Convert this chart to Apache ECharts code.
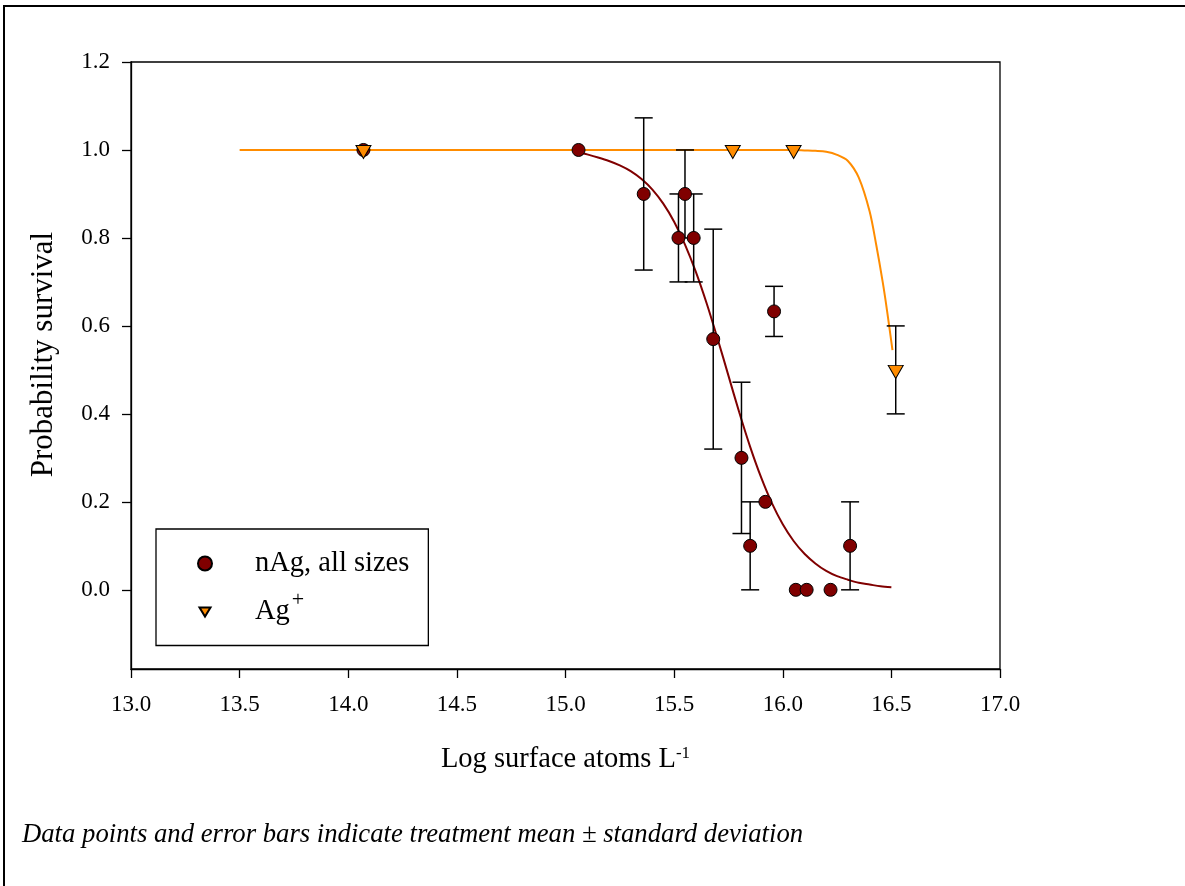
<!DOCTYPE html>
<html><head><meta charset="utf-8">
<script src="https://cdn.jsdelivr.net/npm/echarts@6/dist/echarts.min.js"></script>
<style>html,body{margin:0;padding:0;background:#fff;overflow:hidden}#c{width:1185px;height:886px}</style>
</head><body><div id="c"></div>
<script>
// ---- tick labels ----
const xTicks = [13.0, 13.5, 14.0, 14.5, 15.0, 15.5, 16.0, 16.5, 17.0];
const yTicks = [0.0, 0.2, 0.4, 0.6, 0.8, 1.0, 1.2];

// ---- nAg, all sizes (mean, sd) ----
const nAgX  = [14.07, 15.06, 15.36, 15.52, 15.55, 15.59, 15.68, 15.81, 15.85, 15.92, 15.96, 16.06, 16.11, 16.22, 16.31];
const nAgY  = [1.00, 1.00, 0.90, 0.80, 0.90, 0.80, 0.57, 0.30, 0.10, 0.20, 0.633, 0.00, 0.00, 0.00, 0.10];
const nAgSD = [0, 0, 0.173, 0.10, 0.10, 0.10, 0.25, 0.172, 0.10, 0, 0.057, 0, 0, 0, 0.10];

// ---- Ag+ (mean, sd) ----
const agX  = [14.07, 15.77, 16.05, 16.52];
const agY  = [1.00, 1.00, 1.00, 0.50];
const agSD = [0, 0, 0, 0.10];

// ---- fitted curves ----
const nAgFitX = [15.06, 15.10, 15.15, 15.20, 15.25, 15.30, 15.35, 15.40, 15.45, 15.50, 15.55, 15.60, 15.65, 15.70, 15.75, 15.80, 15.85, 15.90, 15.95, 16.00, 16.05, 16.10, 16.15, 16.20, 16.25, 16.30, 16.35, 16.40, 16.45, 16.50];
const nAgFitY = [0.995, 0.990, 0.983, 0.975, 0.965, 0.952, 0.934, 0.910, 0.878, 0.837, 0.785, 0.723, 0.651, 0.571, 0.487, 0.403, 0.325, 0.256, 0.197, 0.149, 0.111, 0.082, 0.060, 0.043, 0.031, 0.023, 0.016, 0.012, 0.008, 0.006];
const agFitX = [13.50, 15.90, 16.00, 16.05, 16.10, 16.15, 16.20, 16.25, 16.30, 16.35, 16.40, 16.43, 16.46, 16.48, 16.505];
const agFitY = [1.000, 1.000, 1.000, 1.000, 0.999, 0.998, 0.996, 0.989, 0.975, 0.937, 0.860, 0.785, 0.700, 0.635, 0.545];

const FONT = '"Liberation Serif", "Times New Roman", serif';
const zip = (a, b) => a.map((v, i) => [v, b[i]]);
const errData = [];
nAgX.forEach((x, i) => { if (nAgSD[i] > 0) errData.push([x, nAgY[i], nAgSD[i]]); });
agX.forEach((x, i) => { if (agSD[i] > 0) errData.push([x, agY[i], agSD[i]]); });

const triPath = 'path://M0,0 L15,0 L7.5,13 Z';
const triLegend = 'path://M0,0 M14,14 M1.5,2.5 L12.5,2.5 L7,11.5 Z';

const chart = echarts.init(document.getElementById('c'), null, {renderer: 'canvas'});
const option = {
  animation: false,
  backgroundColor: '#fff',
  grid: {left: 131, top: 62, width: 869, height: 607, show: true, borderColor: '#000', borderWidth: 1.3, containLabel: false},
  xAxis: {
    type: 'value', min: 13, max: 17, interval: 0.5,
    axisLine: {onZero: false, lineStyle: {color: '#000', width: 1.3}},
    axisTick: {inside: false, length: 9, customValues: xTicks, lineStyle: {color: '#000', width: 1.3}},
    axisLabel: {margin: 24, color: '#000', fontFamily: FONT, fontSize: 23, customValues: xTicks, formatter: v => v.toFixed(1)},
    splitLine: {show: false},
    name: '{t|Log surface atoms L}{s|-1}', nameLocation: 'middle', nameGap: 76,
    nameTextStyle: {rich: {
      t: {fontFamily: FONT, fontSize: 28.5, color: '#000', lineHeight: 30},
      s: {fontFamily: FONT, fontSize: 17, color: '#000', lineHeight: 13, verticalAlign: 'top'}
    }}
  },
  yAxis: {
    type: 'value', min: -0.18, max: 1.2,
    axisLine: {onZero: false, lineStyle: {color: '#000', width: 1.3}},
    axisTick: {inside: false, length: 9, customValues: yTicks, lineStyle: {color: '#000', width: 1.3}},
    axisLabel: {margin: 21, color: '#000', fontFamily: FONT, fontSize: 23, customValues: yTicks, formatter: v => v.toFixed(1)},
    splitLine: {show: false},
    name: 'Probability survival', nameLocation: 'middle', nameGap: 72,
    nameTextStyle: {fontFamily: FONT, fontSize: 31, color: '#000', padding: [0, 0, 0, 22]}
  },
  legend: {
    left: 156, top: 529, orient: 'vertical',
    padding: [20, 19, 19, 41], itemGap: 11, itemWidth: 14, itemHeight: 14,
    borderColor: '#000', borderWidth: 1.3, backgroundColor: '#fff',
    data: [{name: 'nAg, all sizes', icon: 'circle'}, {name: 'Ag+', icon: triLegend}],
    formatter: n => n === 'Ag+' ? '{sp|}{t|Ag}{s|+}' : '{sp|}{t|' + n + '}',
    textStyle: {rich: {
      sp: {width: 38, lineHeight: 46},
      t: {fontFamily: FONT, fontSize: 28.5, color: '#000', lineHeight: 46},
      s: {fontFamily: FONT, fontSize: 22, color: '#000', verticalAlign: 'top', padding: [0, 0, 0, 2]}
    }},
    selectedMode: false
  },
  series: [
    {type: 'line', name: 'nAg fit', data: zip(nAgFitX, nAgFitY), showSymbol: false, smooth: 0.3, z: 1,
     lineStyle: {color: '#800000', width: 2}, silent: true},
    {type: 'line', name: 'Ag fit', data: zip(agFitX, agFitY), showSymbol: false, smooth: 0.3, z: 1,
     lineStyle: {color: '#ff8c00', width: 2}, silent: true},
    {type: 'custom', name: 'err', data: errData, z: 2, silent: true,
     encode: {x: 0, y: 1},
     renderItem: (params, api) => {
       const x = api.value(0), y = api.value(1), sd = api.value(2);
       const t = api.coord([x, y + sd]), b = api.coord([x, y - sd]);
       const hw = 9, st = {stroke: '#000', lineWidth: 1.5};
       return {type: 'group', children: [
         {type: 'line', shape: {x1: t[0], y1: t[1], x2: b[0], y2: b[1]}, style: st},
         {type: 'line', shape: {x1: t[0] - hw, y1: t[1], x2: t[0] + hw, y2: t[1]}, style: st},
         {type: 'line', shape: {x1: b[0] - hw, y1: b[1], x2: b[0] + hw, y2: b[1]}, style: st}
       ]};
     }},
    {type: 'scatter', name: 'nAg, all sizes', data: zip(nAgX, nAgY), symbol: 'circle', symbolSize: 13, z: 3,
     itemStyle: {color: '#800000', borderColor: '#000', borderWidth: 1, opacity: 1}},
    {type: 'scatter', name: 'Ag+', data: zip(agX, agY), symbol: triPath, symbolSize: [15, 13], symbolOffset: [0, 2], z: 4,
     itemStyle: {color: '#ff8c00', borderColor: '#000', borderWidth: 1, opacity: 1}}
  ],
  graphic: [
    {type: 'polyline', shape: {points: [[4, 886], [4, 6], [1185, 6]]}, style: {stroke: '#000', lineWidth: 2, fill: null}, silent: true},
    {type: 'text', left: 22, top: 821, style: {text: 'Data points and error bars indicate treatment mean ± standard deviation', font: 'italic 26.7px "Liberation Serif", serif', fill: '#000'}, silent: true}
  ]
};
chart.setOption(option);
</script>
</body></html>
